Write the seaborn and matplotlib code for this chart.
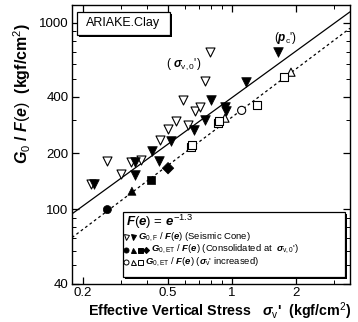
import numpy as np
import pandas as pd
import matplotlib
matplotlib.use("Agg")
import matplotlib.pyplot as plt
from matplotlib.patches import Rectangle
from matplotlib.ticker import FixedLocator, NullFormatter, FixedFormatter
import seaborn as sns

# ---------------- data ----------------
seis_open_x = [0.217, 0.259, 0.300, 0.337, 0.374, 0.459, 0.501, 0.543, 0.586, 0.624, 0.667, 0.708, 0.747, 0.788]
seis_open_y = [136, 181, 154, 180, 183, 234, 268, 298, 384, 282, 337, 354, 486, 695]

seis_fill_x = [0.225, 0.350, 0.350, 0.420, 0.452, 0.517, 0.660, 0.747, 0.801, 0.927, 0.942, 1.163, 1.644]
seis_fill_y = [136, 153, 180, 205, 181, 233, 265, 300, 384, 352, 337, 483, 695]

cons_x = [0.260, 0.339, 0.417, 0.501]
cons_y = [99.6, 125, 144, 166]
cons_shape = ["circle", "triangle", "square", "diamond"]

incr_x = [1.110, 0.927, 1.892, 0.642, 0.650, 0.862, 0.870, 1.310, 1.754]
incr_y = [339, 308, 543, 216, 220, 290, 296, 362, 513]
incr_shape = ["circle", "triangle", "triangle", "square", "square", "square", "square", "square", "square"]

fit_names = ["Seismic Cone", "Consolidated"]
fit_coef = [397.0, 312.0]
fit_exp = [0.83, 0.86]

x_ticks = [0.2, 0.5, 1, 2]
x_ticklabels = ["0.2", "0.5", "1", "2"]
y_ticks = [40, 100, 200, 400, 1000]
y_ticklabels = ["40", "100", "200", "400", "1000"]

# ---------------- style ----------------
sns.set_theme(style="ticks")
plt.rcParams["font.family"] = ["Liberation Sans", "DejaVu Sans"]
plt.rcParams["mathtext.fontset"] = "custom"
plt.rcParams["mathtext.rm"] = "Liberation Sans"
plt.rcParams["mathtext.it"] = "Liberation Sans:italic:bold"
plt.rcParams["mathtext.bf"] = "Liberation Sans:bold"

fig = plt.figure(figsize=(3.58, 3.22), dpi=100)
ax = fig.add_axes([72 / 358, 1 - 283.5 / 322, 278 / 358, 278.5 / 322])

XLIM = (0.1774, 3.58)
YLIM = (40, 1245)
ax.set_xscale("log")
ax.set_yscale("log")

# fit lines
xl = np.array(XLIM)
line_df = pd.DataFrame({
    "x": np.concatenate([xl, xl]),
    "y": np.concatenate([fit_coef[0] * xl ** fit_exp[0], fit_coef[1] * xl ** fit_exp[1]]),
    "fit": [fit_names[0]] * 2 + [fit_names[1]] * 2,
})
sns.lineplot(data=line_df[line_df.fit == fit_names[0]], x="x", y="y", color="black",
             lw=0.9, ax=ax, legend=False)
sns.lineplot(data=line_df[line_df.fit == fit_names[1]], x="x", y="y", color="black",
             lw=0.9, ls=(0, (2.2, 2.2)), ax=ax, legend=False)

shape_map = {"circle": "o", "triangle": "^", "square": "s", "diamond": "D"}

# seismic cone
sns.scatterplot(x=seis_open_x, y=seis_open_y, marker="v", s=42, facecolor="white",
                edgecolor="black", linewidth=0.8, ax=ax, legend=False, zorder=3)
sns.scatterplot(x=seis_fill_x, y=seis_fill_y, marker="v", s=48, color="black",
                edgecolor="black", linewidth=0.5, ax=ax, legend=False, zorder=3)

# consolidated (filled)
cons_df = pd.DataFrame({"x": cons_x, "y": cons_y, "shape": cons_shape})
sns.scatterplot(data=cons_df, x="x", y="y", style="shape", markers=shape_map,
                s=34, color="black", edgecolor="black", linewidth=0.5,
                ax=ax, legend=False, zorder=3)

# increased (open)
incr_df = pd.DataFrame({"x": incr_x, "y": incr_y, "shape": incr_shape})
sns.scatterplot(data=incr_df, x="x", y="y", style="shape", markers=shape_map,
                s=34, facecolor="white", edgecolor="black", linewidth=0.8,
                ax=ax, legend=False, zorder=3)

ax.set_xlim(*XLIM)
ax.set_ylim(*YLIM)

# ticks
ax.xaxis.set_major_locator(FixedLocator(x_ticks))
ax.xaxis.set_major_formatter(FixedFormatter(x_ticklabels))
ax.xaxis.set_minor_locator(FixedLocator([0.3, 0.4, 0.6, 0.7, 0.8, 0.9, 3]))
ax.xaxis.set_minor_formatter(NullFormatter())
ax.yaxis.set_major_locator(FixedLocator(y_ticks))
ax.yaxis.set_major_formatter(FixedFormatter(y_ticklabels))
ax.yaxis.set_minor_locator(FixedLocator([50, 60, 70, 80, 90, 300, 500, 600, 700, 800, 900]))
ax.yaxis.set_minor_formatter(NullFormatter())
ax.tick_params(which="both", direction="in", top=True, right=True, color="black",
               labelsize=9.5, labelcolor="black", pad=2.5)
ax.tick_params(which="major", length=5, width=0.9)
ax.tick_params(which="minor", length=3, width=0.7)
for sp in ax.spines.values():
    sp.set_color("black")
    sp.set_linewidth(1.0)

ax.set_xlabel(r"Effective Vertical Stress   $\sigma_{\rm v}$'  (kgf/cm$^2$)",
              fontsize=10.3, fontweight="bold", color="black")
ax.xaxis.set_label_coords(0.532, -0.062)
ax.set_ylabel(r"$G_0$ / $F(e)$  (kgf/cm$^2$)", fontsize=11.5, fontweight="bold",
              color="black")
ax.yaxis.set_label_coords(-0.140, 0.682)

# annotations
ax.text(0.595, 600, r"( $\sigma_{\rm v,0}$')", fontsize=8.5, ha="center", va="center", color="black")
ax.text(1.78, 828, r"($p_{\rm c}$')", fontsize=8.5, ha="center", va="center", color="black")

# ARIAKE box
ax.add_patch(Rectangle((0.024, 0.886), 0.335, 0.083, transform=ax.transAxes,
                       facecolor="black", edgecolor="black", lw=0, zorder=5))
ax.add_patch(Rectangle((0.018, 0.892), 0.335, 0.083, transform=ax.transAxes,
                       facecolor="white", edgecolor="black", lw=0.9, zorder=6))
ax.text(0.185, 0.934, "ARIAKE.Clay", transform=ax.transAxes, fontsize=9,
        ha="center", va="center", color="black", zorder=7)

# legend box
ax.add_patch(Rectangle((0.189, 0.017), 0.799, 0.234, transform=ax.transAxes,
                       facecolor="black", edgecolor="black", lw=0, zorder=5))
ax.add_patch(Rectangle((0.183, 0.023), 0.799, 0.234, transform=ax.transAxes,
                       facecolor="white", edgecolor="black", lw=0.9, zorder=6))
ax.text(0.195, 0.222, r"$F(e)$ = $e^{-1.3}$", transform=ax.transAxes, fontsize=9.5,
        ha="left", va="center", color="black", zorder=7)

leg_rows = [
    ([("v", "white"), ("v", "black")], [0.195, 0.219], 0.238,
     r"$G_{\rm 0,F}$ / $F(e)$ (Seismic Cone)"),
    ([("o", "black"), ("^", "black"), ("s", "black"), ("D", "black")],
     [0.195, 0.219, 0.243, 0.266], 0.283,
     r"$G_{\rm 0,ET}$ / $F(e)$ (Consolidated at  $\sigma_{\rm v,0}$')"),
    ([("o", "white"), ("^", "white"), ("s", "white")], [0.195, 0.219, 0.243], 0.262,
     r"$G_{\rm 0,ET}$ / $F(e)$ ($\sigma_{\rm v}$' increased)"),
]
row_y = [0.166, 0.121, 0.076]
for (marks, mx, tx, label), yy in zip(leg_rows, row_y):
    for (m, fc), xx in zip(marks, mx):
        ax.plot([xx], [yy], marker=m, markersize=3.6 if m != "D" else 3.1,
                markerfacecolor=fc, markeredgecolor="black", markeredgewidth=0.7,
                transform=ax.transAxes, zorder=7, clip_on=False, ls="none")
    ax.text(tx, yy, label, transform=ax.transAxes, fontsize=6.8,
            ha="left", va="center", color="black", zorder=7)

fig.savefig("out.png", dpi=100)
